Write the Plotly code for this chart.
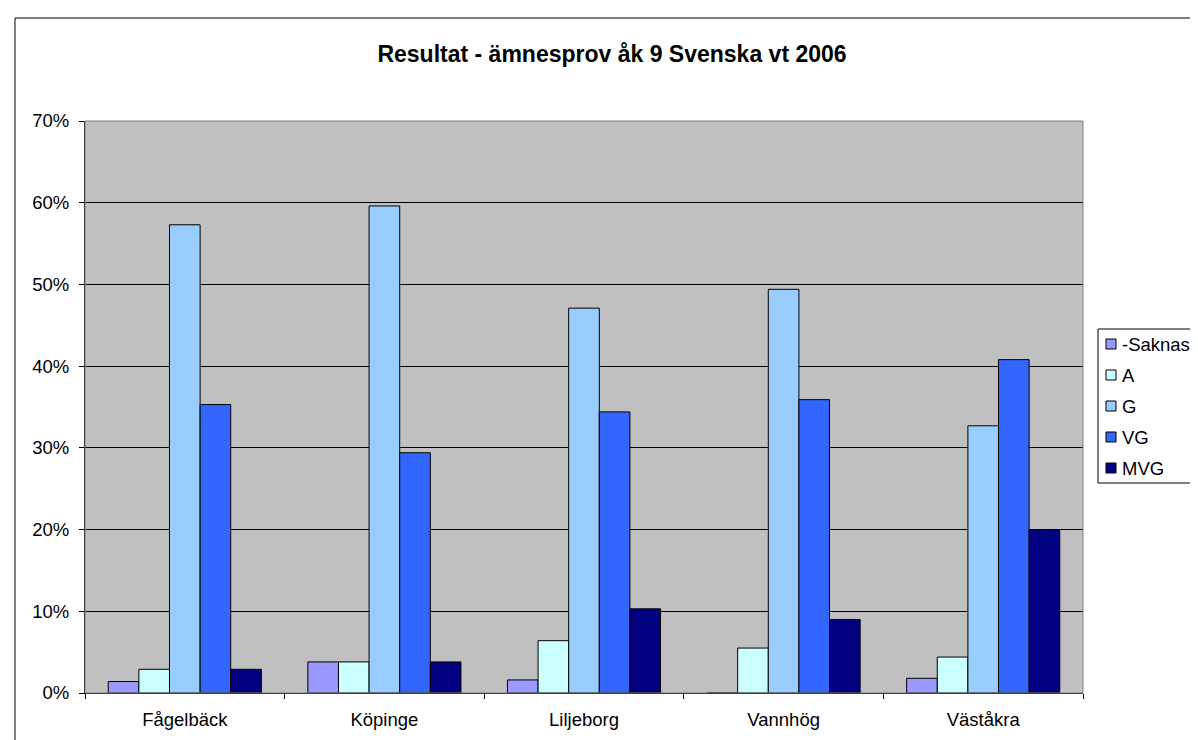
import plotly.graph_objects as go

# ---- data ----
categories = ["Fågelbäck", "Köpinge", "Liljeborg", "Vannhög", "Väståkra"]
series_names = ["-Saknas-", "A", "G", "VG", "MVG"]
saknas = [1.4, 3.8, 1.6, 0.0, 1.8]
grade_a = [2.9, 3.8, 6.4, 5.5, 4.4]
grade_g = [57.3, 59.6, 47.1, 49.4, 32.7]
grade_vg = [35.3, 29.4, 34.4, 35.9, 40.8]
grade_mvg = [2.9, 3.8, 10.3, 9.0, 20.0]
series_values = [saknas, grade_a, grade_g, grade_vg, grade_mvg]
colors = ["#9999FF", "#CCFFFF", "#99CCFF", "#3366FF", "#000080"]
y_ticks = [0, 0.1, 0.2, 0.3, 0.4, 0.5, 0.6, 0.7]
title_text = "Resultat - ämnesprov åk 9 Svenska vt 2006"

FONT = "Liberation Sans, Arial, sans-serif"
FS = 18.5
W, H = 1198, 740
L, R, T, B = 77, 1075, 113, 685  # plot area pixel edges

fig = go.Figure()
for name, vals, col in zip(series_names, series_values, colors):
    fig.add_trace(go.Bar(
        x=categories, y=[v / 100 for v in vals], name=name,
        marker=dict(color=col, line=dict(color="black", width=1)),
        showlegend=False,
    ))

def px_x(p):
    return (p - L) / (R - L)

def px_y(p):
    return (B - p) / (B - T)

shapes = []
annotations = []
# outer chart border (extends past the right/bottom edge of the picture)
shapes.append(dict(type="rect", xref="paper", yref="paper",
                   x0=px_x(7), x1=px_x(1210), y0=px_y(750), y1=px_y(10),
                   line=dict(color="black", width=1), fillcolor="rgba(0,0,0,0)", layer="below"))
# plot area border (grey)
shapes.append(dict(type="rect", xref="paper", yref="paper",
                   x0=0, x1=1, y0=0, y1=1,
                   line=dict(color="#808080", width=1), fillcolor="rgba(0,0,0,0)", layer="above"))

# legend box
leg_left, leg_right, leg_top, leg_bottom = 1090, 1195, 321, 475
shapes.append(dict(type="rect", xref="paper", yref="paper",
                   x0=px_x(leg_left), x1=px_x(leg_right), y0=px_y(leg_bottom), y1=px_y(leg_top),
                   line=dict(color="black", width=1), fillcolor="white", layer="above"))
first_cy, step = 336, 31
for i, (name, col) in enumerate(zip(series_names, colors)):
    cy = first_cy + step * i
    shapes.append(dict(type="rect", xref="paper", yref="paper",
                       x0=px_x(1098), x1=px_x(1108), y0=px_y(cy + 5), y1=px_y(cy - 5),
                       line=dict(color="black", width=1), fillcolor=col, layer="above"))
    annotations.append(dict(xref="paper", yref="paper", x=px_x(1112), y=px_y(cy),
                            xanchor="left", yanchor="middle", text=name, showarrow=False,
                            font=dict(family=FONT, size=FS, color="black")))

fig.update_layout(
    width=W, height=H,
    margin=dict(l=L, r=W - R, t=T, b=H - B, pad=0),
    paper_bgcolor="white", plot_bgcolor="#C0C0C0",
    barmode="group", bargap=0.233, bargroupgap=0,
    title=dict(text="<b>" + title_text + "</b>", x=604 / W, xref="container", xanchor="center",
               y=1 - 46 / H, yanchor="middle",
               font=dict(family=FONT, size=23, color="black")),
    font=dict(family=FONT, size=FS, color="black"),
    showlegend=False,
    shapes=shapes, annotations=annotations,
)
fig.update_xaxes(type="category", showline=True, linecolor="black", linewidth=1,
                 ticks="outside", tickson="boundaries", ticklen=5, tickcolor="black",
                 showgrid=False, ticklabelstandoff=10,
                 tickfont=dict(family=FONT, size=FS, color="black"))
fig.update_yaxes(range=[0, 0.7], tickvals=y_ticks, tickformat=".0%",
                 showline=True, linecolor="black", linewidth=1,
                 ticks="outside", ticklen=5, tickcolor="black", ticklabelstandoff=6,
                 showgrid=True, gridcolor="black", gridwidth=1, zeroline=False,
                 tickfont=dict(family=FONT, size=FS, color="black"))

fig.write_html("out.html")
